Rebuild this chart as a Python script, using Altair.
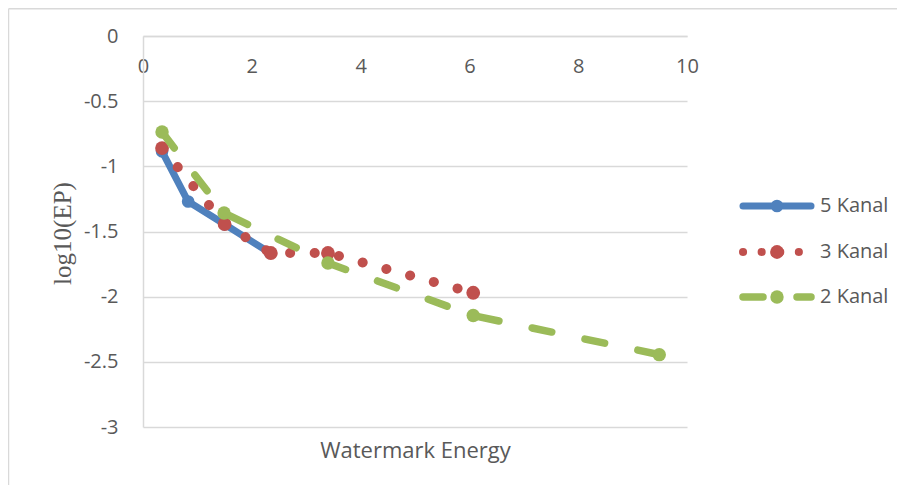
import altair as alt
import pandas as pd

# ---- data ----
series_names = ["5 Kanal", "3 Kanal", "2 Kanal"]
x_5 = [0.35, 0.83, 1.50, 2.34]
y_5 = [-0.885, -1.27, -1.445, -1.665]
x_3 = [0.35, 1.50, 2.35, 3.40, 6.07]
y_3 = [-0.86, -1.443, -1.665, -1.665, -1.97]
x_2 = [0.35, 1.49, 3.40, 6.07, 9.49]
y_2 = [-0.737, -1.358, -1.742, -2.145, -2.445]
x_ticks = [0, 2, 4, 6, 8, 10]
y_ticks = [0, -0.5, -1, -1.5, -2, -2.5, -3]

# ---- styles ----
colors = ["#4F81BD", "#C0504D", "#9BBB59"]
widths = [7, 10, 7.5]
dashes = [None, [0.1, 24.5], [20, 34]]
legend_dashes = [None, [0.1, 18.5], [20, 34]]
marker_sizes = [160, 190, 180]
W, H = 544, 391
GRID = "#d9d9d9"
TXT = "#595959"
FONT = "Open Sans"

x_enc = alt.X(
    "x:Q",
    scale=alt.Scale(domain=[0, 10], nice=False, zero=False),
    axis=alt.Axis(
        orient="bottom", offset=-H, values=x_ticks, grid=False, ticks=False, tickSize=0,
        labelFlush=False, domainColor=GRID, domainWidth=1.5, labelFont=FONT, labelFontSize=20,
        labelColor=TXT, labelPadding=20, title="Watermark Energy", titleFont=FONT,
        titleFontSize=22, titleFontWeight="normal", titleColor=TXT, titleY=414,
        titleBaseline="middle", titleAlign="center",
    ),
)
y_enc = alt.Y(
    "y:Q",
    scale=alt.Scale(domain=[-3, 0], nice=False, zero=False),
    axis=alt.Axis(
        values=y_ticks, labelExpr="datum.value + ''", grid=True, gridColor=GRID,
        gridWidth=1.5, ticks=False, tickSize=0, labelFlush=False, domainColor=GRID,
        domainWidth=1.5, labelFont=FONT, labelFontSize=20, labelColor=TXT, labelPadding=25,
        title="log10(EP)", titleFont="Liberation Serif", titleFontSize=25,
        titleFontWeight="normal", titleColor=TXT, titleX=-81, titleY=197,
        titleAlign="center", titleBaseline="middle", titleAngle=270,
    ),
)

xs = [x_5, x_3, x_2]
ys = [y_5, y_3, y_2]

layers = []
# chart border (decoration)
layers.append(
    alt.Chart(pd.DataFrame({"k": [0]})).mark_rule(color=GRID, strokeWidth=1.5).encode(
        x=alt.value(-134.5), x2=alt.value(760), y=alt.value(-27.2)
    )
)
layers.append(
    alt.Chart(pd.DataFrame({"k": [0]})).mark_rule(color=GRID, strokeWidth=1.5).encode(
        x=alt.value(-134.5), y=alt.value(-27.2), y2=alt.value(460)
    )
)

for i, name in enumerate(series_names):
    df = pd.DataFrame({"x": xs[i], "y": ys[i], "series": name})
    line_kw = dict(color=colors[i], strokeWidth=widths[i], strokeCap="round", strokeJoin="round")
    if dashes[i] is not None:
        line_kw["strokeDash"] = dashes[i]
    layers.append(alt.Chart(df).mark_line(**line_kw).encode(x=x_enc, y=y_enc))
    layers.append(
        alt.Chart(df).mark_circle(color=colors[i], size=marker_sizes[i], opacity=1).encode(x=x_enc, y=y_enc)
    )

# ---- manual legend (pixel positions relative to the plot area) ----
leg_y = [170, 216, 261]
leg_x1, leg_x2, leg_xc, leg_tx = 600, 668, 634, 677
for i, name in enumerate(series_names):
    ldf = pd.DataFrame({"lx1": [leg_x1], "lx2": [leg_x2], "lxc": [leg_xc], "tx": [leg_tx],
                        "ly": [leg_y[i]], "label": [name]})
    rule_kw = dict(color=colors[i], strokeWidth=min(widths[i], 8), strokeCap="round")
    if legend_dashes[i] is not None:
        rule_kw["strokeDash"] = legend_dashes[i]
    layers.append(alt.Chart(ldf).mark_rule(**rule_kw).encode(
        x=alt.X("lx1:Q", scale=None, axis=None), x2="lx2:Q",
        y=alt.Y("ly:Q", scale=None, axis=None)))
    layers.append(alt.Chart(ldf).mark_circle(color=colors[i], size=marker_sizes[i], opacity=1).encode(
        x=alt.X("lxc:Q", scale=None, axis=None), y=alt.Y("ly:Q", scale=None, axis=None)))
    layers.append(alt.Chart(ldf).mark_text(align="left", baseline="middle", font=FONT,
                                           fontSize=20, color=TXT).encode(
        x=alt.X("tx:Q", scale=None, axis=None), y=alt.Y("ly:Q", scale=None, axis=None),
        text="label:N"))

chart = alt.layer(*layers).properties(
    width=W, height=H,
    autosize=alt.AutoSizeParams(type="none"),
    padding={"left": 135, "top": 28, "right": 210, "bottom": 58},
    background="white",
).configure_view(strokeWidth=0)

chart.save("out.html", embed_options={"renderer": "svg", "actions": False})
